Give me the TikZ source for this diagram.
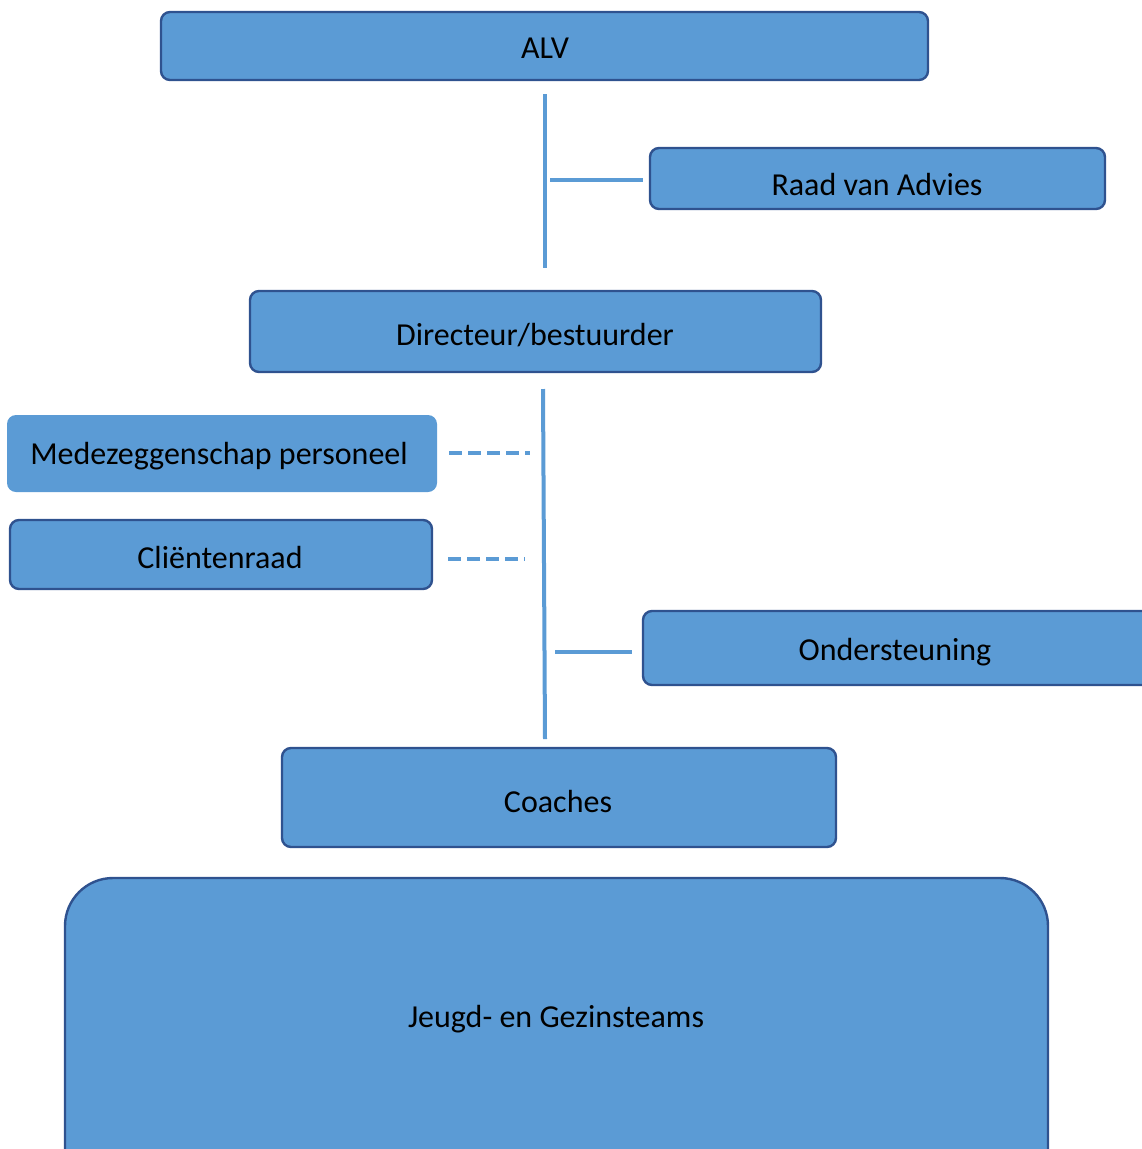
\documentclass[tikz,border=0pt]{standalone}
\usepackage{fontspec}
\setmainfont{Carlito}
\definecolor{boxfill}{HTML}{5B9BD5}
\definecolor{boxline}{HTML}{2F528F}
\begin{document}
\begin{tikzpicture}[x=1pt,y=-1pt,
  box/.style={draw=boxline,line width=2.4pt,fill=boxfill,rounded corners=9pt},
  lbl/.style={font=\fontsize{32}{38}\selectfont},
  conn/.style={draw=boxfill,line width=4pt},
  dconn/.style={draw=boxfill,line width=4pt,dash pattern=on 13pt off 6pt}]
\useasboundingbox (0,0) rectangle (1142,1149);
\begin{scope}
\clip (0,0) rectangle (1142,1149);
\draw[box] (161,12) rectangle (928,80);
\draw[box] (650,148) rectangle (1105,209);
\draw[box] (250,291) rectangle (821,372);
\fill[boxfill,rounded corners=9pt] (7,415) rectangle (437,492);
\draw[box] (10,520) rectangle (432,589);
\draw[box] (643,611) rectangle (1160,685);
\draw[box] (282,748) rectangle (836,847);
\draw[box,rounded corners=48pt] (65,878) rectangle (1048,1200);
\end{scope}
\node[lbl] (alv) at (545,48) {ALV};
\node[lbl] (raad) at (877,185) {Raad van Advies};
\node[lbl] (dir) at (535,335) {Directeur/bestuurder};
\node[lbl] (mz) at (219,456) {Medezeggenschap personeel};
\node[lbl] (cr) at (220,557) {Cliëntenraad};
\node[lbl] (ond) at (895,652) {Ondersteuning};
\node[lbl] (coach) at (558,801) {Coaches};
\node[lbl] (jgt) at (556,1019) {Jeugd- en Gezinsteams};
\coordinate (a1) at (545,94);
\coordinate (a2) at (545,268);
\coordinate (r1) at (550,180);
\coordinate (r2) at (643,180);
\coordinate (d1) at (543,389);
\coordinate (d2) at (545,739);
\coordinate (m1) at (449,453);
\coordinate (m2) at (530,453);
\coordinate (c1) at (448,559);
\coordinate (c2) at (525,559);
\coordinate (o1) at (555,652);
\coordinate (o2) at (632,652);
\draw[conn] (a1) -- (a2);
\draw[conn,line width=3.5pt] (r1) -- (r2);
\draw[conn] (d1) -- (d2);
\draw[dconn] (m1) -- (m2);
\draw[dconn] (c1) -- (c2);
\draw[conn,line width=3.5pt] (o1) -- (o2);
\end{tikzpicture}
\end{document}
